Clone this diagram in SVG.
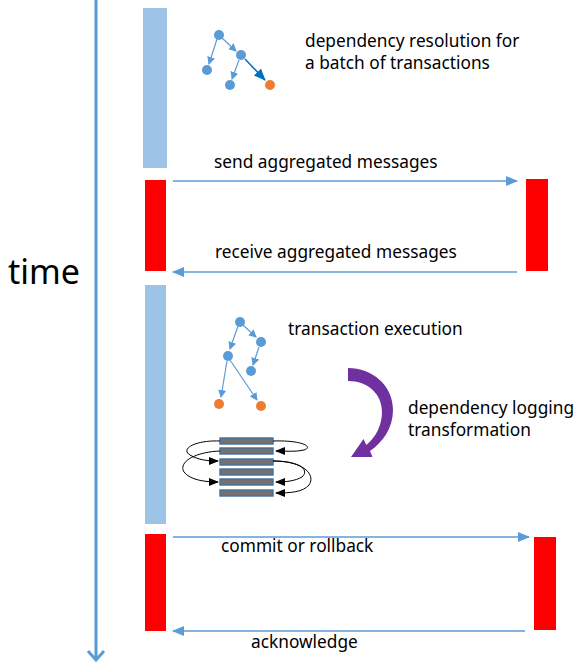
<svg xmlns="http://www.w3.org/2000/svg" width="580" height="670" viewBox="0 0 580 670">
<style>
text{font-family:"Noto Sans","Open Sans","DejaVu Sans",sans-serif;fill:#000}
.lbl{font-size:17.3px}
.bluebar{fill:#9dc3e6}
.redbar{fill:#ff0000}
.msg{stroke:#5b9bd5;stroke-width:1.5;fill:none;marker-end:url(#mh)}
.n{fill:#5b9bd5}
.o{fill:#ed7d31}
.te{stroke:#5b9bd5;stroke-width:1.2;fill:none;marker-end:url(#th)}
.sb{fill:#767171;stroke:#41719c;stroke-width:1.4}
.cv{stroke:#000;stroke-width:1;fill:none;marker-end:url(#kh)}
</style>
<defs>
<marker id="mh" markerWidth="12" markerHeight="10" refX="11" refY="5" orient="auto" markerUnits="userSpaceOnUse"><path d="M0,0 L12,5 L0,10 Z" fill="#5b9bd5"/></marker>
<marker id="th" markerWidth="8" markerHeight="8" refX="7" refY="4" orient="auto" markerUnits="userSpaceOnUse"><path d="M0,0 L8,4 L0,8 Z" fill="#5b9bd5"/></marker>
<marker id="dh" markerWidth="12" markerHeight="10" refX="11" refY="5" orient="auto" markerUnits="userSpaceOnUse"><path d="M0,0 L12,5 L0,10 Z" fill="#0070c0"/></marker>
<marker id="kh" markerWidth="10" markerHeight="8" refX="9" refY="4" orient="auto" markerUnits="userSpaceOnUse"><path d="M0,0 L10,4 L0,8 Z" fill="#000"/></marker>
</defs>

<g id="time-axis">
<line x1="96" y1="0" x2="96" y2="660" stroke="#5b9bd5" stroke-width="3"/>
<polyline points="88,651 96,660 104,651" fill="none" stroke="#5b9bd5" stroke-width="3" stroke-linejoin="miter"/>
<text x="8" y="284" style="font-size:34px">time</text>
</g>

<g id="phase1-bar"><rect class="bluebar" x="143" y="8" width="24" height="160"/></g>
<g id="phase2-left"><rect class="redbar" x="145" y="180" width="21" height="91"/></g>
<g id="phase2-right"><rect class="redbar" x="526" y="179" width="22" height="92"/></g>
<g id="phase3-bar"><rect class="bluebar" x="145" y="285" width="21" height="239"/></g>
<g id="phase4-left"><rect class="redbar" x="145" y="534" width="21" height="97"/></g>
<g id="phase4-right"><rect class="redbar" x="534" y="537" width="22" height="93"/></g>

<g id="tree1">
<line class="te" x1="217" y1="39" x2="209" y2="64"/>
<line class="te" x1="222" y1="38" x2="236" y2="51"/>
<line class="te" x1="239" y1="60" x2="232" y2="79"/>
<line x1="245" y1="59" x2="265" y2="80" stroke="#0070c0" stroke-width="1.5" marker-end="url(#dh)"/>
<circle class="n" cx="219" cy="35" r="5"/>
<circle class="n" cx="207" cy="70" r="5"/>
<circle class="n" cx="241" cy="55" r="5"/>
<circle class="n" cx="230" cy="85" r="5"/>
<circle class="o" cx="270" cy="85" r="5"/>
</g>
<g id="label-resolution">
<text class="lbl" x="305" y="47">dependency resolution for</text>
<text class="lbl" x="305" y="69">a batch of transactions</text>
</g>

<g id="tree2">
<line class="te" x1="238" y1="326" x2="230" y2="349"/>
<line class="te" x1="243" y1="325" x2="256" y2="337"/>
<line class="te" x1="259" y1="347" x2="253" y2="365"/>
<line class="te" x1="227" y1="361" x2="221" y2="397"/>
<line class="te" x1="230" y1="360" x2="257" y2="400"/>
<circle class="n" cx="240" cy="322" r="5"/>
<circle class="n" cx="261" cy="342" r="5"/>
<circle class="n" cx="228" cy="356" r="5"/>
<circle class="n" cx="251" cy="371" r="5"/>
<circle class="o" cx="219" cy="404" r="5"/>
<circle class="o" cx="261" cy="406" r="5"/>
</g>
<g id="label-execution"><text class="lbl" x="288" y="335">transaction execution</text></g>

<g id="transform-arrow">
<path d="M348,368 C372,368 393,385 393,410 C393,428 383,442 370,451 L372.5,457 L351,457 L363.5,439 L366.4,445 C376,437 382,425 382,412 C382,394 368,381 348,381 Z" fill="#7030a0"/>
</g>
<g id="label-logging">
<text class="lbl" x="408" y="414">dependency logging</text>
<text class="lbl" x="408" y="436">transformation</text>
</g>

<g id="log-stack">
<rect class="sb" x="220" y="438" width="53" height="6"/>
<rect class="sb" x="220" y="448" width="53" height="6"/>
<rect class="sb" x="220" y="459" width="53" height="6"/>
<rect class="sb" x="220" y="469" width="53" height="6"/>
<rect class="sb" x="220" y="479" width="53" height="6"/>
<rect class="sb" x="220" y="490" width="53" height="6"/>
<path class="cv" d="M220,441 C195,440 180,449 190,455 C198,460 208,461 218,461"/>
<path class="cv" d="M220,451 C195,452 178,462 184,472 C190,480 205,482 218,482"/>
<path class="cv" d="M273,441 C302,440 314,447 304,450 C296,452 286,451 276,451"/>
<path class="cv" d="M273,461 C300,461 310,470 302,477 C295,481 286,482 276,482"/>
<path class="cv" d="M273,461 C304,461 316,475 309,485 C303,492 291,493 276,493"/>
</g>

<g id="connectors">
<line class="msg" x1="173" y1="181" x2="517" y2="181"/>
<line class="msg" x1="517" y1="272" x2="173" y2="272"/>
<line class="msg" x1="173" y1="537" x2="529" y2="537"/>
<line class="msg" x1="525" y1="631" x2="173" y2="631"/>
</g>
<g id="connector-labels">
<text class="lbl" x="214" y="168">send aggregated messages</text>
<text class="lbl" x="215" y="258">receive aggregated messages</text>
<text class="lbl" x="221" y="552">commit or rollback</text>
<text class="lbl" x="251" y="648">acknowledge</text>
</g>
</svg>
